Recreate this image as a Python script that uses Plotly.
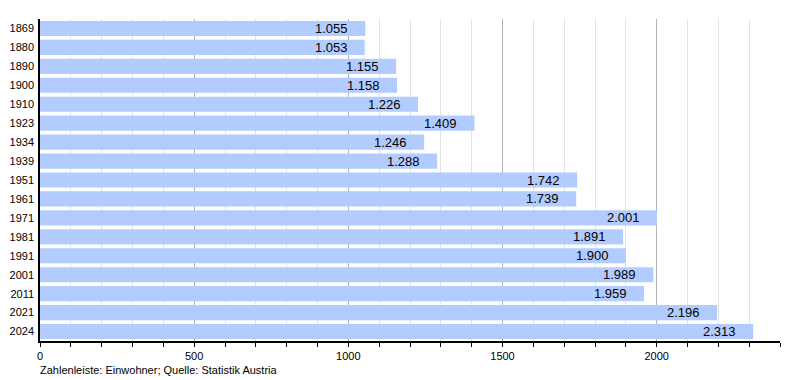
import plotly.graph_objects as go

years = ["1869", "1880", "1890", "1900", "1910", "1923", "1934", "1939", "1951",
         "1961", "1971", "1981", "1991", "2001", "2011", "2021", "2024"]
population = [1055, 1053, 1155, 1158, 1226, 1409, 1246, 1288, 1742,
              1739, 2001, 1891, 1900, 1989, 1959, 2196, 2313]
labels = [f"{v:,}".replace(",", ".") for v in population]

FONT = "Liberation Sans, Arial, sans-serif"

fig = go.Figure()
fig.add_trace(go.Bar(
    x=population, y=years, orientation="h",
    marker=dict(color="#b3ccff", line=dict(width=0)),
    width=0.8, hoverinfo="x+y",
))

for i, (v, t) in enumerate(zip(population, labels)):
    fig.add_annotation(x=v, y=i, text=t, showarrow=False, xanchor="right",
                       xshift=-15, font=dict(family=FONT, size=13, color="#000000"))

fig.add_annotation(x=0, y=0, xref="paper", yref="paper", xanchor="left", yanchor="top",
                   xshift=-2, yshift=-21, text="Zahlenleiste: Einwohner; Quelle: Statistik Austria",
                   showarrow=False, font=dict(family=FONT, size=11, color="#000000"))

# page body adds an 8px margin, so the figure is sized to fill the rest of the window
fig.update_layout(
    width=792, height=372,
    margin=dict(l=32, r=20, t=11, b=39),
    paper_bgcolor="white", plot_bgcolor="white",
    showlegend=False, bargap=0.2,
    font=dict(family=FONT, size=11, color="#000000"),
    xaxis=dict(
        range=[0, 2400], dtick=500, tick0=0, automargin=False,
        showgrid=True, gridcolor="#b4b4b4", gridwidth=1,
        showline=True, linecolor="#000000", linewidth=1.5,
        ticks="outside", ticklen=4, tickcolor="#000000", tickwidth=1,
        zeroline=False, tickfont=dict(family=FONT, size=11),
        minor=dict(dtick=100, showgrid=True, gridcolor="#e2e2e2", gridwidth=1,
                   ticks="outside", ticklen=4, tickcolor="#000000"),
        fixedrange=True,
    ),
    yaxis=dict(
        type="category", categoryorder="array", categoryarray=years,
        range=[len(years) - 0.5, -0.5], automargin=False,
        showline=True, linecolor="#000000", linewidth=1.5,
        showgrid=False, ticks="", ticklabelstandoff=2,
        tickfont=dict(family=FONT, size=11), fixedrange=True,
    ),
)

fig.write_html("out.html")
